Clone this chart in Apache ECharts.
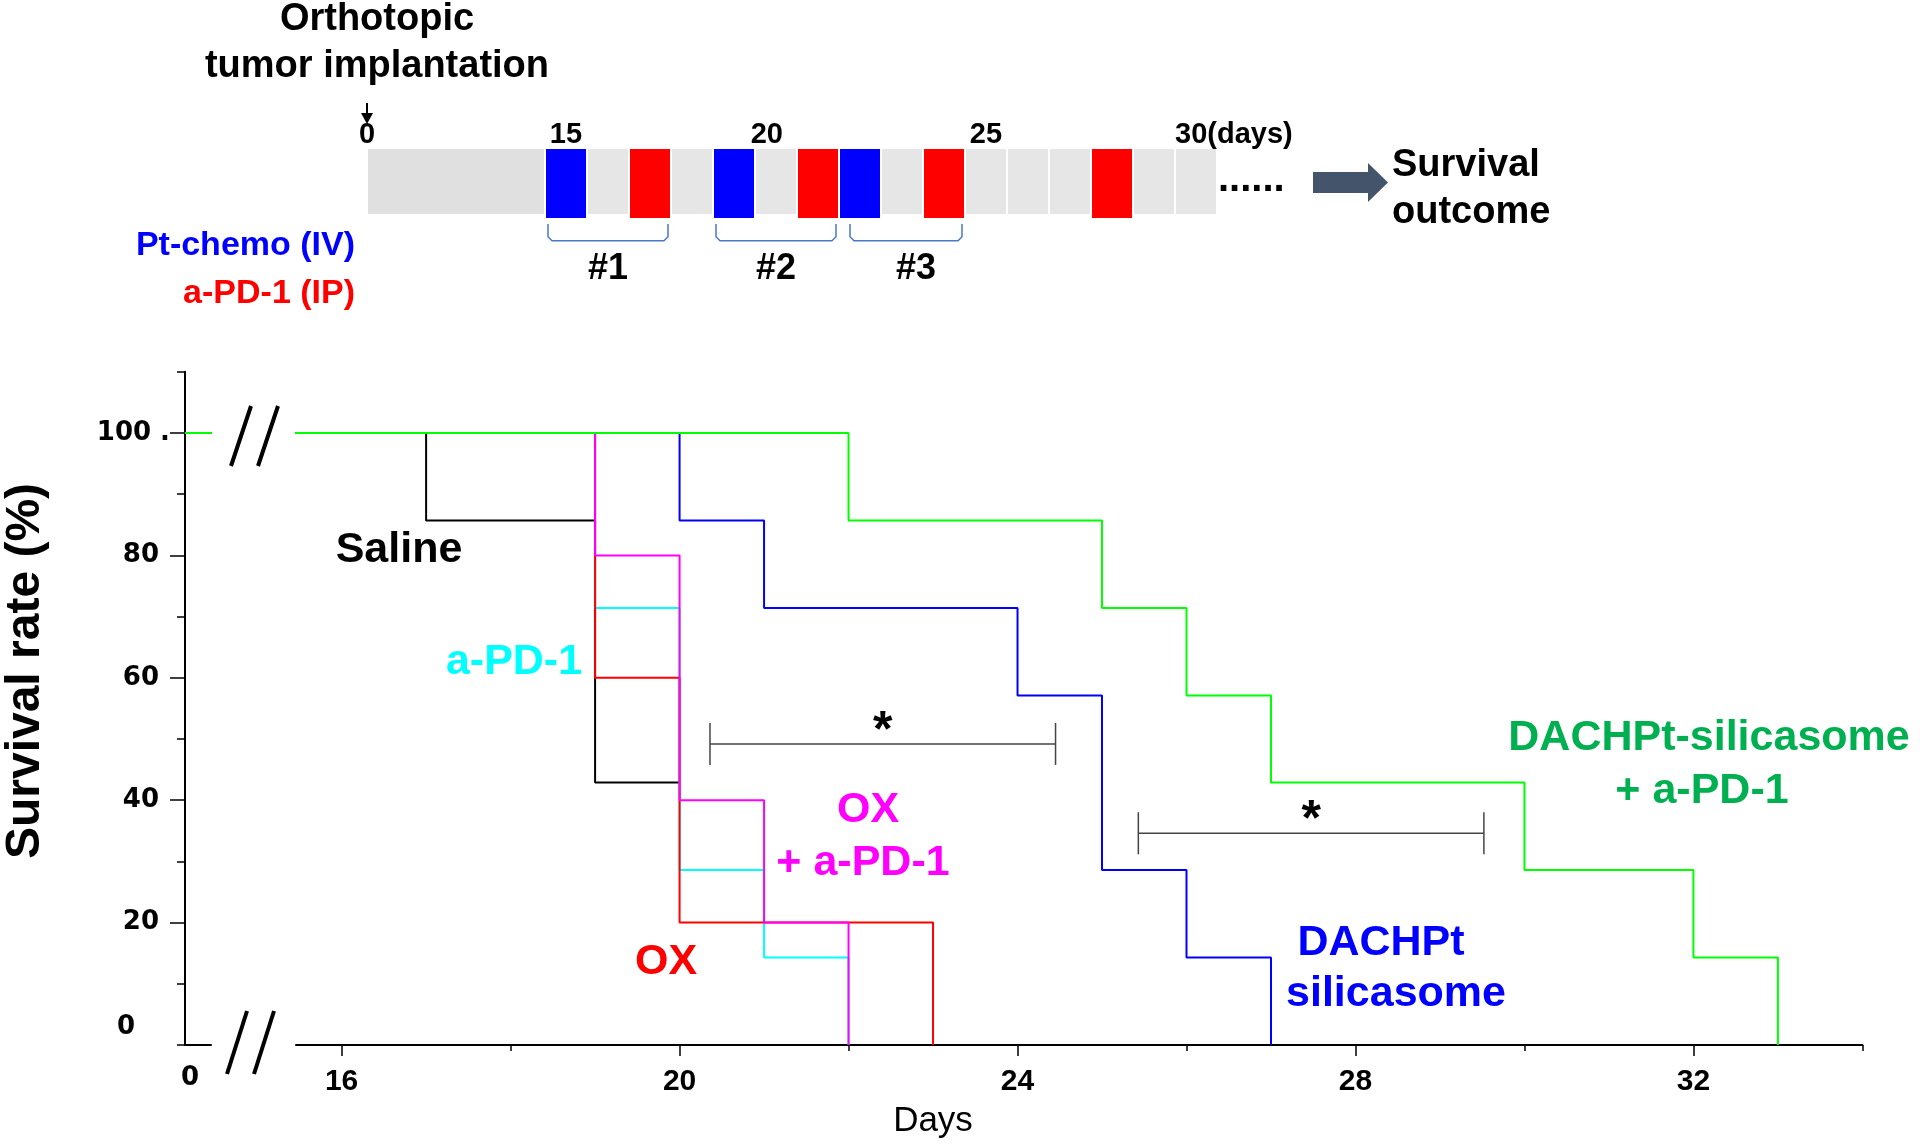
<!DOCTYPE html>
<html><head><meta charset="utf-8">
<script src="https://cdn.jsdelivr.net/npm/echarts@6/dist/echarts.min.js"></script>
<style>html,body{margin:0;padding:0;background:#fff}#c{width:1920px;height:1146px}</style>
</head><body><div id="c"></div>
<script>
// ---------------- data ----------------
// Kaplan-Meier curves: day of each step, survival (%) after the step
const salineDays = [0, 17, 19, 20];
const salineSurv = [100, 85.7, 42.9, 42.9];
const apd1Days = [0, 19, 20, 21, 22];
const apd1Surv = [100, 71.4, 28.6, 14.3, 0];
const oxDays = [0, 19, 20, 23];
const oxSurv = [100, 60, 20, 0];
const oxPd1Days = [0, 19, 20, 21, 22];
const oxPd1Surv = [100, 80, 40, 20, 0];
const dachDays = [0, 20, 21, 24, 25, 26, 27];
const dachSurv = [100, 85.7, 71.4, 57.1, 28.6, 14.3, 0];
const dachPd1Days = [0, 22, 25, 26, 27, 30, 32, 33];
const dachPd1Surv = [100, 85.7, 71.4, 57.1, 42.9, 28.6, 14.3, 0];

// axes
const xMajorTicks = [16, 20, 24, 28, 32];
const xMinorTicks = [18, 22, 26, 30, 34];
const yLabelValues = [0, 20, 40, 60, 80, 100];
const yMajorTicks = [20, 40, 60, 80, 100];
const yMinorTicks = [0, 10, 30, 50, 70, 90, 110];

// significance brackets (days, survival level)
const sigStart = [20.36, 25.43];
const sigEnd = [24.45, 29.52];
const sigLevel = [49.2, 34.6];
const sigMark = ['*', '*'];

// treatment schedule (days)
const cellDays = [15, 16, 17, 18, 19, 20, 21, 22, 23, 24, 25, 26, 27, 28, 29, 30];
const chemoDays = [15, 19, 22];
const pd1Days = [17, 21, 24, 28];
const cycleFirst = [15, 19, 22];
const cycleLast = [17, 21, 24];
const cycleNames = ['#1', '#2', '#3'];
const scheduleTickDays = [0, 15, 20, 25, 30];
const scheduleTickText = ['0', '15', '20', '25', '30(days)'];

// ---------------- layout helpers ----------------
const FONT = '"Liberation Sans", Arial, sans-serif';
const WIDE = '"DejaVu Sans", Verdana, sans-serif';
const SCHED_LEFT = 367, CELL_W = 42, LEAD = 178 / 42; // compressed 0..15 segment
function slot(d) { return d <= 15 ? d / 15 * LEAD : LEAD + (d - 15); }
function schedX(d) { return SCHED_LEFT + slot(d) * CELL_W; }
const schedTickShift = [0, 0.5, 0.28, 0.5, 0];   // label placement within a day cell
const cycleTextShift = [0, 0, 10];               // px

const blockColors = ['#e0e0e0', '#e6e6e6', '#0000ff', '#ff0000'];
const scheduleBlocks = [[0, 15, 0]]
  .concat(cellDays.map(d => [d, d + 1, 1]))
  .concat(chemoDays.map(d => [d, d + 1, 2]))
  .concat(pd1Days.map(d => [d, d + 1, 3]));
const GRAY_BOTTOM = 4 / 69;

const chart = echarts.init(document.getElementById('c'), null, {renderer: 'canvas'});

function curves(days, surv, color, z) {
  const data = days.map((d, i) => [d, surv[i]]);
  const base = {type: 'line', step: 'end', symbol: 'none', silent: true, clip: true,
    lineStyle: {color: color, width: 2}, z: z, data: data};
  return [
    Object.assign({}, base, {xAxisIndex: 1, yAxisIndex: 1}),
    Object.assign({}, base, {xAxisIndex: 2, yAxisIndex: 3})
  ];
}

function txt(text, x, y, color, size, opts) {
  opts = opts || {};
  return {type: 'text', x: x, y: y, rotation: opts.rotation || 0, silent: true,
    style: {text: text, x: 0, y: 0, fill: color,
      font: (opts.weight || 'bold') + ' ' + size + 'px ' + (opts.family || FONT),
      textAlign: opts.align || 'center', textVerticalAlign: 'middle',
      align: opts.align || 'center', verticalAlign: 'middle'}};
}
function seg(x1, y1, x2, y2, w, c) {
  return {type: 'line', silent: true, shape: {x1: x1, y1: y1, x2: x2, y2: y2},
    style: {stroke: c || '#000', lineWidth: w}};
}

const graphics = [
  txt('Orthotopic', 377, 20, '#000', 38),
  txt('tumor implantation', 377, 67, '#000', 38),
  seg(schedX(0), 103, schedX(0), 117, 2),
  {type: 'polygon', silent: true, shape: {points: [[schedX(0) - 6, 113], [schedX(0) + 6, 113], [schedX(0), 124]]}, style: {fill: '#000'}},
  txt('......', 1218, 180, '#000', 40, {align: 'left'}),
  {type: 'rect', silent: true, shape: {x: 1313, y: 172, width: 56, height: 21}, style: {fill: '#44546a'}},
  {type: 'polygon', silent: true, shape: {points: [[1368, 163], [1388, 182.5], [1368, 202]]}, style: {fill: '#44546a'}},
  txt('Survival', 1392, 166, '#000', 38, {align: 'left'}),
  txt('outcome', 1392, 213, '#000', 38, {align: 'left'}),
  txt('Pt-chemo (IV)', 355, 246, '#0000ff', 34, {align: 'right'}),
  txt('a-PD-1 (IP)', 355, 294, '#ff0000', 34, {align: 'right'}),
  // axis breaks
  seg(251, 406, 231, 466, 4), seg(278, 406, 258, 466, 4),
  seg(247, 1011, 227, 1074, 4), seg(274, 1011, 254, 1074, 4),
  // group labels
  txt('Saline', 399, 550, '#000', 43),
  txt('a-PD-1', 514, 662, '#00ffff', 43),
  txt('OX', 666, 962, '#ff0000', 43),
  txt('OX', 868, 810, '#ff00ff', 43),
  txt('+ a-PD-1', 863, 863, '#ff00ff', 43),
  txt('DACHPt', 1381, 943, '#0000ff', 43),
  txt('silicasome', 1396, 994, '#0000ff', 43),
  txt('DACHPt-silicasome', 1709, 738, '#00b050', 43),
  txt('+ a-PD-1', 1702, 791, '#00b050', 43),
  // axis names
  txt('Days', 933, 1121, '#000', 35, {weight: 'normal'}),
  txt('Survival rate (%)', 26, 671, '#000', 48, {rotation: Math.PI / 2})
];
scheduleTickDays.forEach((d, i) => {
  const last = i === scheduleTickDays.length - 1;
  const x = schedX(d) + schedTickShift[i] * CELL_W;
  graphics.push(txt(scheduleTickText[i], x, 135, '#000', 29, {align: last ? 'left' : 'center'}));
});

const tickLabelWide = {fontFamily: WIDE, fontWeight: 'bold', fontSize: 26, color: '#000'};

const option = {
  animation: false,
  backgroundColor: '#fff',
  grid: [
    {left: SCHED_LEFT, top: 149, width: slot(31) * CELL_W, height: 69},
    {left: 185, top: 371.8, width: 26, height: 673.2},
    {left: 296, top: 371.8, width: 1566.4, height: 673.2}
  ],
  xAxis: [
    {gridIndex: 0, type: 'value', min: 0, max: slot(31), show: false},
    {gridIndex: 1, type: 'value', min: 0, max: 1, position: 'bottom',
      axisLine: {show: true, lineStyle: {color: '#000', width: 2}},
      axisTick: {show: false}, splitLine: {show: false},
      axisLabel: {customValues: [0], formatter: () => '0', margin: 20,
        padding: [0, 0, 0, 10], fontFamily: WIDE, fontWeight: 'bold', fontSize: 26, color: '#000'}},
    {gridIndex: 2, type: 'value', min: 15.46, max: 34, position: 'bottom',
      axisLine: {show: true, lineStyle: {color: '#000', width: 2}},
      axisTick: {show: true, customValues: xMajorTicks, length: 11, lineStyle: {color: '#000', width: 1.5}},
      splitLine: {show: false},
      axisLabel: {customValues: xMajorTicks, margin: 22, fontFamily: FONT, fontWeight: 'bold', fontSize: 30, color: '#000'}},
    {gridIndex: 2, type: 'value', min: 15.46, max: 34, position: 'bottom', offset: 0,
      axisLine: {show: false},
      axisTick: {show: true, customValues: xMinorTicks, length: 6, lineStyle: {color: '#000', width: 1.5}},
      splitLine: {show: false}, axisLabel: {show: false}}
  ],
  yAxis: [
    {gridIndex: 0, type: 'value', min: 0, max: 1, show: false},
    {gridIndex: 1, type: 'value', min: 0, max: 110, position: 'left',
      axisLine: {show: true, lineStyle: {color: '#000', width: 2}},
      axisTick: {show: true, customValues: yMajorTicks, length: 15, lineStyle: {color: '#000', width: 1.5}},
      splitLine: {show: false},
      axisLabel: Object.assign({customValues: yLabelValues, margin: 15,
        formatter: v => v === 100 ? '100 .' : (v === 0 ? '{z|0}' : '{n|' + v + '}'),
        rich: {n: Object.assign({padding: [0, 11, 0, 0]}, tickLabelWide),
               z: Object.assign({padding: [0, 35, 36, 0]}, tickLabelWide)}}, tickLabelWide)},
    {gridIndex: 1, type: 'value', min: 0, max: 110, position: 'left', offset: 0,
      axisLine: {show: false},
      axisTick: {show: true, customValues: yMinorTicks, length: 8, lineStyle: {color: '#000', width: 1.5}},
      splitLine: {show: false}, axisLabel: {show: false}},
    {gridIndex: 2, type: 'value', min: 0, max: 110, show: false}
  ],
  graphic: graphics,
  series: [].concat(
    curves(salineDays, salineSurv, '#000000', 2),
    curves(apd1Days, apd1Surv, '#00ffff', 3),
    curves(oxDays, oxSurv, '#ff0000', 4),
    curves(oxPd1Days, oxPd1Surv, '#ff00ff', 5),
    curves(dachDays, dachSurv, '#0000ff', 6),
    curves(dachPd1Days, dachPd1Surv, '#00ff00', 7),
    [
      { // schedule blocks
        type: 'custom', xAxisIndex: 0, yAxisIndex: 0, silent: true,
        data: scheduleBlocks,
        renderItem: function (params, api) {
          const s = api.value(0), e = api.value(1), k = api.value(2);
          const p1 = api.coord([slot(s), 1]);
          const p2 = api.coord([slot(e), k < 2 ? GRAY_BOTTOM : 0]);
          return {type: 'rect', shape: {x: p1[0] + 1, y: p1[1], width: p2[0] - p1[0] - 2, height: p2[1] - p1[1]},
            style: {fill: blockColors[k]}};
        }
      },
      { // treatment cycle brackets
        type: 'custom', xAxisIndex: 0, yAxisIndex: 0, silent: true,
        data: cycleFirst.map((d, i) => [d, cycleLast[i] + 1, i]),
        renderItem: function (params, api) {
          const a = api.coord([slot(api.value(0)), -0.087]);
          const b = api.coord([slot(api.value(1)), -0.33]);
          const i = api.value(2);
          const x1 = a[0] + 3 + (i === 2 ? 8 : 0), x2 = b[0] - 3, y1 = a[1], y2 = b[1];
          return {type: 'group', children: [
            {type: 'polyline', shape: {points: [[x1, y1], [x1, y2 - 4], [x1 + 4, y2], [x2 - 4, y2], [x2, y2 - 4], [x2, y1]]},
              style: {stroke: '#4a78c8', lineWidth: 1.5, fill: null}},
            {type: 'text', style: {text: cycleNames[i], x: (x1 + x2) / 2 + cycleTextShift[i], y: y2 + 28,
              textAlign: 'center', textVerticalAlign: 'middle', align: 'center', verticalAlign: 'middle',
              font: 'bold 36px ' + FONT, fill: '#000'}}
          ]};
        }
      },
      { // significance brackets
        type: 'custom', xAxisIndex: 2, yAxisIndex: 3, silent: true, z: 8,
        data: sigStart.map((s, i) => [s, sigEnd[i], sigLevel[i], i]),
        renderItem: function (params, api) {
          const a = api.coord([api.value(0), api.value(2)]);
          const b = api.coord([api.value(1), api.value(2)]);
          const h = 21;
          const st = {stroke: '#444', lineWidth: 1.5};
          return {type: 'group', children: [
            {type: 'line', shape: {x1: a[0], y1: a[1], x2: b[0], y2: b[1]}, style: st},
            {type: 'line', shape: {x1: a[0], y1: a[1] - h, x2: a[0], y2: a[1] + h}, style: st},
            {type: 'line', shape: {x1: b[0], y1: b[1] - h, x2: b[0], y2: b[1] + h}, style: st},
            {type: 'text', style: {text: sigMark[api.value(3)], x: (a[0] + b[0]) / 2, y: a[1] - 12,
              textAlign: 'center', textVerticalAlign: 'middle', align: 'center', verticalAlign: 'middle',
              font: 'bold 50px ' + FONT, fill: '#000'}}
          ]};
        }
      }
    ]
  )
};
chart.setOption(option);
</script></body></html>
